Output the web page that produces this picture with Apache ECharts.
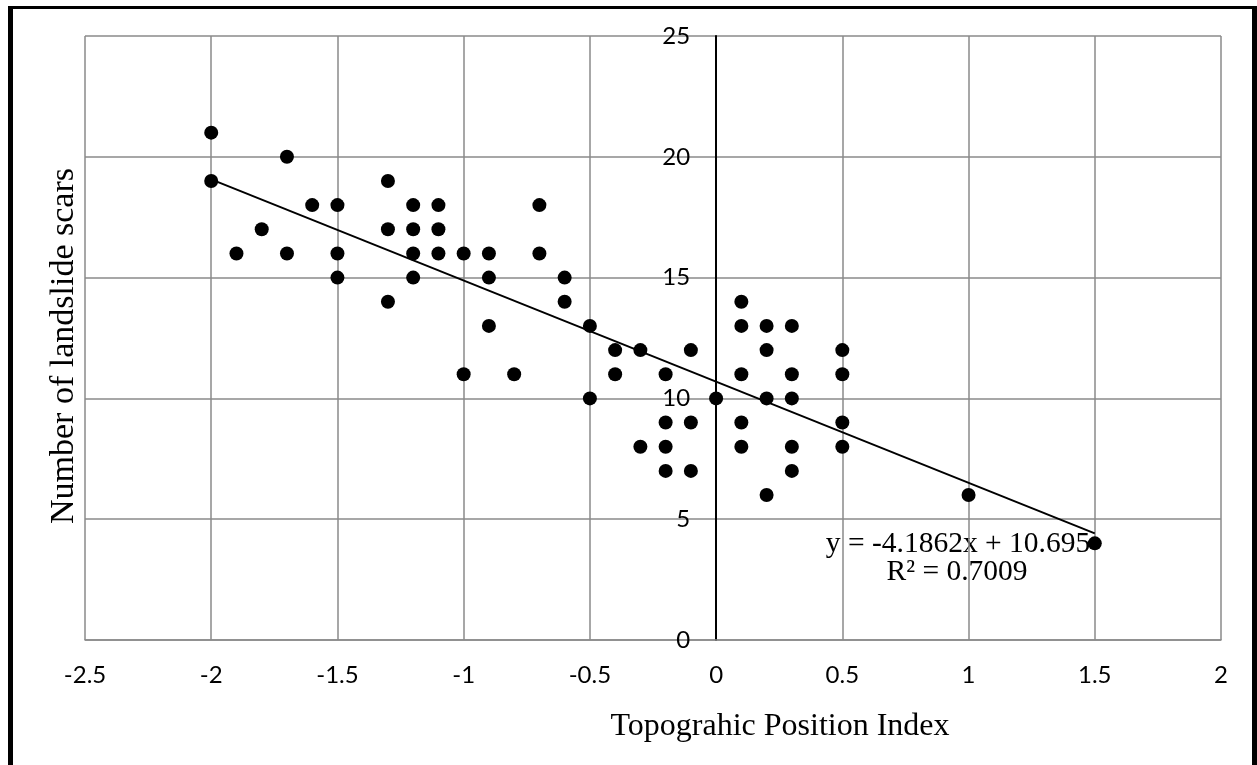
<!DOCTYPE html>
<html>
<head>
<meta charset="utf-8">
<script src="https://cdn.jsdelivr.net/npm/echarts@6/dist/echarts.min.js"></script>
<style>
html,body{margin:0;padding:0;background:#fff;}
#chart{width:1257px;height:765px;}
</style>
</head>
<body>
<div id="chart"></div>
<script>
// Data
const tpi =    [-2,-2,-1.9,-1.8,-1.7,-1.7,-1.6,-1.5,-1.5,-1.5,-1.3,-1.3,-1.3,-1.2,-1.2,-1.2,-1.2,-1.1,-1.1,-1.1,-1,-1,-0.9,-0.9,-0.9,-0.8,-0.7,-0.7,-0.6,-0.6,-0.5,-0.5,-0.4,-0.4,-0.3,-0.3,-0.2,-0.2,-0.2,-0.2,-0.1,-0.1,-0.1,0,0.1,0.1,0.1,0.1,0.1,0.2,0.2,0.2,0.2,0.3,0.3,0.3,0.3,0.3,0.5,0.5,0.5,0.5,1,1.5];
const scars =  [21,19,16,17,20,16,18,18,16,15,19,17,14,18,17,16,15,18,17,16,16,11,16,15,13,11,18,16,15,14,13,10,12,11,12,8,11,9,8,7,12,9,7,10,14,13,11,9,8,13,12,10,6,13,11,10,8,7,12,11,9,8,6,4];
const xTicks = [-2.5,-2,-1.5,-1,-0.5,0,0.5,1,1.5,2];
const yTicks = [0,5,10,15,20,25];
const trendSlope = -4.1862;
const trendIntercept = 10.695;
const trendR2 = 0.7009;
const trendRange = [-2, 1.5];
const xTitle = 'Topograhic Position Index';
const yTitle = 'Number of landslide scars';

const points = tpi.map((x, i) => [x, scars[i]]);
const trend = trendRange.map(x => [x, trendSlope * x + trendIntercept]);

const chart = echarts.init(document.getElementById('chart'), null, {renderer: 'canvas'});
const grey = '#8a8a8a';
const tickFont = 'Lato, "Open Sans", sans-serif';
const serif = '"Liberation Serif", "Times New Roman", serif';
const gridLeft = 85, gridRight = 36;
const plotW = 1257 - gridLeft - gridRight;
// shift the y axis so that it sits where x = 0
const yAxisOffset = -plotW * (0 - xTicks[0]) / (xTicks[xTicks.length - 1] - xTicks[0]);

chart.setOption({
  animation: false,
  backgroundColor: '#fff',
  grid: {left: gridLeft, right: gridRight, top: 36, bottom: 125},
  xAxis: {
    type: 'value',
    min: xTicks[0], max: xTicks[xTicks.length - 1], interval: 0.5,
    axisLine: {show: true, onZero: false, lineStyle: {color: grey, width: 1.5}},
    axisTick: {show: false},
    axisLabel: {color: '#000', fontFamily: tickFont, fontSize: 24, margin: 23},
    splitLine: {show: true, lineStyle: {color: grey, width: 1.5}}
  },
  yAxis: {
    type: 'value',
    position: 'left',
    offset: yAxisOffset,
    min: yTicks[0], max: yTicks[yTicks.length - 1], interval: 5,
    axisLine: {show: true, onZero: false, lineStyle: {color: '#000', width: 2}},
    axisTick: {show: false},
    axisLabel: {color: '#000', fontFamily: tickFont, fontSize: 24, margin: 26},
    splitLine: {show: true, lineStyle: {color: grey, width: 1.5}}
  },
  series: [
    {
      type: 'line',
      data: trend,
      symbol: 'none',
      lineStyle: {color: '#000', width: 2},
      z: 2,
      silent: true
    },
    {
      type: 'scatter',
      data: points,
      symbol: 'circle',
      symbolSize: 14,
      itemStyle: {color: '#000', opacity: 1},
      z: 3
    }
  ],
  graphic: [
    {type: 'rect', shape: {x: 8, y: 6, width: 5, height: 759}, style: {fill: '#000'}},
    {type: 'rect', shape: {x: 8, y: 6, width: 1249, height: 3}, style: {fill: '#000'}},
    {type: 'rect', shape: {x: 1252, y: 6, width: 5, height: 759}, style: {fill: '#000'}},
    {type: 'text', x: 780, y: 727, style: {text: xTitle, font: '32px ' + serif, fill: '#000', textAlign: 'center', textVerticalAlign: 'middle'}},
    {type: 'text', x: 64, y: 346, rotation: Math.PI / 2, style: {text: yTitle, font: '34px ' + serif, fill: '#000', textAlign: 'center', textVerticalAlign: 'middle'}},
    {type: 'text', x: 958, y: 544, style: {text: 'y = ' + trendSlope + 'x + ' + trendIntercept, font: '29.5px ' + serif, fill: '#000', textAlign: 'center', textVerticalAlign: 'middle'}},
    {type: 'text', x: 957, y: 572, style: {text: 'R² = ' + trendR2, font: '29.5px ' + serif, fill: '#000', textAlign: 'center', textVerticalAlign: 'middle'}}
  ]
});
</script>
</body>
</html>
